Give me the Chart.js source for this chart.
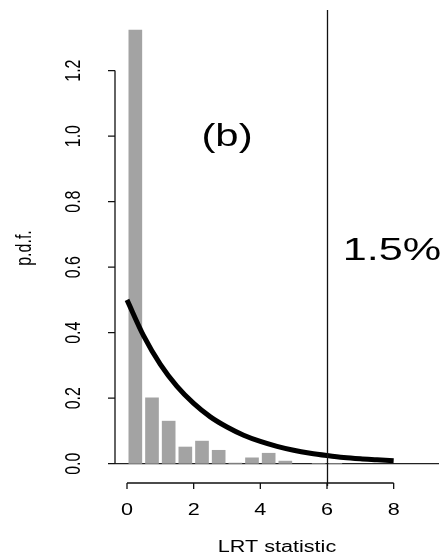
<!DOCTYPE html>
<html>
<head>
<meta charset="utf-8">
<script src="https://cdn.jsdelivr.net/npm/chart.js@4"></script>
<style>
  html, body { margin: 0; padding: 0; background: #fff; }
</style>
</head>
<body>
<canvas id="result" width="447" height="558"></canvas>
<script>
"use strict";
// histogram of simulated LRT values (bin centres, density)
const binMids = [0.25, 0.75, 1.25, 1.75, 2.25, 2.75, 3.25, 3.75, 4.25, 4.75, 5.25, 5.75, 6.25];
const binDensity = [1.325, 0.202, 0.131, 0.052, 0.070, 0.042, 0.003, 0.019, 0.033, 0.009, 0, 0.002, 0.002];

// reference curve
const curveX = [0, 0.5, 1, 1.5, 2, 2.5, 3, 3.5, 4, 4.5, 5, 5.5, 6, 6.5, 7, 7.5, 8];
const curveY = [0.50, 0.39, 0.303, 0.236, 0.184, 0.143, 0.112, 0.087, 0.068, 0.053, 0.041, 0.032, 0.025, 0.019, 0.015, 0.012, 0.009];

const xTicks = [0, 2, 4, 6, 8];
const yTicks = [0, 0.2, 0.4, 0.6, 0.8, 1.0, 1.2];
const cutoff = 6;
const panelLabel = "(b)";
const pctLabel = "1.5%";

const FONT = "'Liberation Sans', Arial, sans-serif";
const STRETCH = 1.35; // text in the picture is wider than normal

function stretchedText(ctx, txt, x, y, size, rot) {
  ctx.save();
  ctx.translate(x, y);
  ctx.scale(STRETCH, 1);
  if (rot) ctx.rotate(rot);
  ctx.font = size + "px " + FONT;
  ctx.fillStyle = "#000";
  ctx.textAlign = "center";
  ctx.textBaseline = "middle";
  ctx.fillText(txt, 0, 0);
  ctx.restore();
}

// R style axes, reference lines and text
const rAxes = {
  id: "rAxes",
  beforeDatasetsDraw(chart) {
    const { ctx, chartArea: a, scales: { x, y } } = chart;
    ctx.save();
    ctx.strokeStyle = "#222";
    ctx.lineWidth = 1.2;
    ctx.beginPath();
    ctx.moveTo(a.left, y.getPixelForValue(0));
    ctx.lineTo(a.right, y.getPixelForValue(0));
    ctx.stroke();
    ctx.restore();
  },
  afterDraw(chart) {
    const { ctx, chartArea: a, scales: { x, y } } = chart;
    ctx.save();
    ctx.strokeStyle = "#111";
    ctx.lineWidth = 1.3;

    // vertical line at cutoff
    const vx = Math.round(x.getPixelForValue(cutoff)) + 0.5;
    ctx.beginPath();
    ctx.moveTo(vx, a.top);
    ctx.lineTo(vx, a.bottom);
    ctx.stroke();

    // y axis
    const ax = a.left;
    ctx.beginPath();
    ctx.moveTo(ax, y.getPixelForValue(yTicks[0]));
    ctx.lineTo(ax, y.getPixelForValue(yTicks[yTicks.length - 1]));
    yTicks.forEach((t) => {
      const py = y.getPixelForValue(t);
      ctx.moveTo(ax, py);
      ctx.lineTo(ax - 7, py);
    });
    ctx.stroke();
    yTicks.forEach((t) => {
      stretchedText(ctx, t.toFixed(1), 74, y.getPixelForValue(t), 16, -Math.PI / 2);
    });

    // x axis
    const ay = 483;
    ctx.beginPath();
    ctx.moveTo(x.getPixelForValue(xTicks[0]), ay);
    ctx.lineTo(x.getPixelForValue(xTicks[xTicks.length - 1]), ay);
    xTicks.forEach((t) => {
      const px = x.getPixelForValue(t);
      ctx.moveTo(px, ay);
      ctx.lineTo(px, ay + 6);
    });
    ctx.stroke();
    xTicks.forEach((t) => {
      stretchedText(ctx, String(t), x.getPixelForValue(t), 511, 16, 0);
    });

    // titles and annotations
    stretchedText(ctx, "LRT statistic", 277, 548, 16, 0);
    stretchedText(ctx, "p.d.f.", 25, 248, 16, -Math.PI / 2);
    stretchedText(ctx, panelLabel, 227, 137, 31, 0);
    stretchedText(ctx, pctLabel, 392, 251, 32, 0);
    ctx.restore();
  },
};

new Chart("result", {
  type: "bar",
  data: {
    datasets: [
      {
        type: "line",
        data: curveX.map((v, i) => ({ x: v, y: curveY[i] })),
        borderColor: "#000",
        borderWidth: 5,
        pointRadius: 0,
        fill: false,
        cubicInterpolationMode: "monotone",
        order: 0,
      },
      {
        type: "bar",
        data: binMids.map((v, i) => ({ x: v, y: binDensity[i] })),
        backgroundColor: "#a3a3a3",
        borderWidth: 0,
        barPercentage: 0.82,
        categoryPercentage: 1,
        order: 1,
      },
    ],
  },
  options: {
    responsive: false,
    animation: false,
    layout: { padding: { left: 115, right: 8, top: 10, bottom: 72 } },
    plugins: { legend: { display: false }, tooltip: { enabled: false } },
    scales: {
      x: { type: "linear", min: -0.36, max: 9.36, offset: false, display: false },
      y: { type: "linear", min: -0.068, max: 1.385, display: false },
    },
  },
  plugins: [rAxes],
});
</script>
</body>
</html>
